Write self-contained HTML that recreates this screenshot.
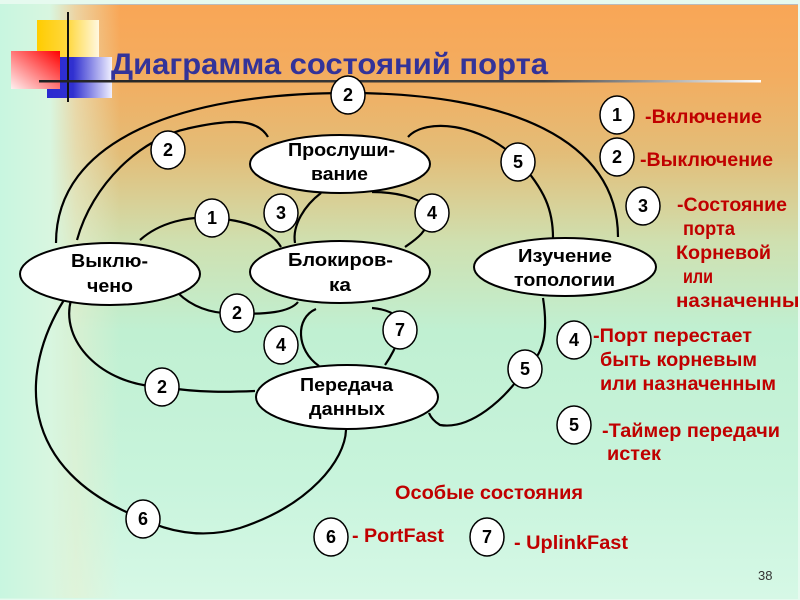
<!DOCTYPE html>
<html><head><meta charset="utf-8"><style>
html,body{margin:0;padding:0;width:800px;height:600px;overflow:hidden}
body{position:relative;background:#e6faef;font-family:"Liberation Sans",Arial,sans-serif}
#bg{position:absolute;left:0;top:4px;width:798px;height:594px;background:linear-gradient(180deg,#f9a656 0%,#f3ad60 12%,#e3bd78 25%,#cfe0b0 40%,#c0f0d2 55%,#c8f4dc 80%,#d6f8e6 100%);border-top:1px solid #bbb}
#fade{position:absolute;left:0;top:4px;width:200px;height:594px;background:linear-gradient(90deg,#c8f6e0 0%,#d8f6e0 25%,rgba(230,240,210,0.6) 38%,rgba(255,255,255,0) 60%)}
svg{position:absolute;left:0;top:0}
.c text{font-size:18px;font-weight:bold;text-anchor:middle;fill:#000}
.n{font-size:18px;font-weight:bold;fill:#000}
.r{font-size:19px;font-weight:bold;fill:#c00000}
</style></head><body>
<div id="bg"></div><div id="fade"></div>
<svg width="800" height="600" viewBox="0 0 800 600">
<defs>
<linearGradient id="gy" x1="0" x2="1"><stop offset="0" stop-color="#ffcc00"/><stop offset="0.5" stop-color="#ffd840"/><stop offset="1" stop-color="#fff8e0"/></linearGradient>
<linearGradient id="gr" x1="1" y1="0" x2="0" y2="1"><stop offset="0" stop-color="#ff0000"/><stop offset="1" stop-color="#fff0f0"/></linearGradient>
<linearGradient id="gb" x1="0" x2="1"><stop offset="0" stop-color="#2a2ad0"/><stop offset="0.4" stop-color="#3030d0"/><stop offset="1" stop-color="#f0f0ff"/></linearGradient>
<linearGradient id="gl" x1="0" x2="1"><stop offset="0" stop-color="#222"/><stop offset="0.7" stop-color="#444"/><stop offset="1" stop-color="#fff"/></linearGradient>
</defs>
<rect x="37" y="20" width="62" height="60" fill="url(#gy)"/>
<rect x="47" y="57" width="65" height="41" fill="url(#gb)"/>
<rect x="11" y="51" width="49" height="38" fill="url(#gr)"/>
<line x1="68" y1="12" x2="68" y2="102" stroke="#111" stroke-width="2"/>
<rect x="39" y="80" width="722" height="2.5" fill="url(#gl)"/>
<text x="111" y="74" font-size="30" font-weight="bold" fill="#333399" textLength="437" lengthAdjust="spacingAndGlyphs">Диаграмма состояний порта</text>

<g fill="none" stroke="#000" stroke-width="2.2">
<path d="M56,243 C56,140 180,93 348,93 C510,93 618,140 618,237"/>
<path d="M77,240 C92,185 140,138 190,128 C235,118 258,120 268,137"/>
<path d="M408,137 C425,118 480,122 518,160 C545,190 553,210 553,238"/>
<path d="M321,193 C305,205 292,225 295,243"/>
<path d="M372,192 C400,192 430,200 430,215 C428,232 415,240 405,247"/>
<path d="M140,240 C160,222 190,216 212,218 C250,220 272,232 281,247"/>
<path d="M178,293 C190,305 210,315 237,313 C265,315 290,312 298,302"/>
<path d="M316,309 C295,318 296,350 319,366"/>
<path d="M372,308 C395,310 405,320 400,335 C395,350 390,358 385,365"/>
<path d="M543,298 C548,330 545,355 525,369 C505,400 470,430 440,425 C435,422 431,418 429,413"/>
<path d="M71,300 C60,340 100,385 162,387 C200,393 230,392 255,391"/>
<path d="M64,300 C20,370 15,470 143,519 C165,530 200,540 240,528 C310,505 345,460 346,430"/>
</g>

<g fill="#fff" stroke="#000" stroke-width="2">
<ellipse cx="340" cy="164" rx="90" ry="29"/>
<ellipse cx="110" cy="274" rx="90" ry="31"/>
<ellipse cx="340" cy="272" rx="90" ry="31"/>
<ellipse cx="565" cy="267" rx="91" ry="29"/>
<ellipse cx="347" cy="397" rx="91" ry="32"/>
</g>
<g class="n" >
<text x="288" y="156" textLength="107" lengthAdjust="spacingAndGlyphs">Прослуши-</text><text x="311" y="180" textLength="57" lengthAdjust="spacingAndGlyphs">вание</text>
<text x="71" y="267" textLength="77" lengthAdjust="spacingAndGlyphs">Выклю-</text><text x="87" y="292" textLength="46" lengthAdjust="spacingAndGlyphs">чено</text>
<text x="288" y="266" textLength="105" lengthAdjust="spacingAndGlyphs">Блокиров-</text><text x="329" y="291" textLength="22" lengthAdjust="spacingAndGlyphs">ка</text>
<text x="518" y="262" textLength="94" lengthAdjust="spacingAndGlyphs">Изучение</text><text x="514" y="286" textLength="101" lengthAdjust="spacingAndGlyphs">топологии</text>
<text x="300" y="391" textLength="93" lengthAdjust="spacingAndGlyphs">Передача</text><text x="309" y="415" textLength="76" lengthAdjust="spacingAndGlyphs">данных</text>
</g>

<g class="c">
<g fill="#fff" stroke="#000" stroke-width="1.5">
<ellipse cx="348" cy="95" rx="17" ry="19"/><ellipse cx="168" cy="150" rx="17" ry="19"/>
<ellipse cx="518" cy="162" rx="17" ry="19"/><ellipse cx="212" cy="218" rx="17" ry="19"/>
<ellipse cx="281" cy="213" rx="17" ry="19"/><ellipse cx="432" cy="213" rx="17" ry="19"/>
<ellipse cx="237" cy="313" rx="17" ry="19"/><ellipse cx="281" cy="345" rx="17" ry="19"/>
<ellipse cx="400" cy="330" rx="17" ry="19"/><ellipse cx="525" cy="369" rx="17" ry="19"/>
<ellipse cx="162" cy="387" rx="17" ry="19"/><ellipse cx="143" cy="519" rx="17" ry="19"/>
<ellipse cx="617" cy="115" rx="17" ry="19"/><ellipse cx="617" cy="157" rx="17" ry="19"/>
<ellipse cx="643" cy="206" rx="17" ry="19"/><ellipse cx="574" cy="340" rx="17" ry="19"/>
<ellipse cx="574" cy="425" rx="17" ry="19"/><ellipse cx="331" cy="537" rx="17" ry="19"/>
<ellipse cx="487" cy="537" rx="17" ry="19"/>
</g>
<text x="348" y="101">2</text><text x="168" y="156">2</text><text x="518" y="168">5</text>
<text x="212" y="224">1</text><text x="281" y="219">3</text><text x="432" y="219">4</text>
<text x="237" y="319">2</text><text x="281" y="351">4</text><text x="400" y="336">7</text>
<text x="525" y="375">5</text><text x="162" y="393">2</text><text x="143" y="525">6</text>
<text x="617" y="121">1</text><text x="617" y="163">2</text><text x="643" y="212">3</text>
<text x="574" y="346">4</text><text x="574" y="431">5</text><text x="331" y="543">6</text>
<text x="487" y="543">7</text>
</g>

<g class="r">
<text x="645" y="123" textLength="117" lengthAdjust="spacingAndGlyphs">-Включение</text>
<text x="640" y="166" textLength="133" lengthAdjust="spacingAndGlyphs">-Выключение</text>
<text x="677" y="211" textLength="110" lengthAdjust="spacingAndGlyphs">-Состояние</text>
<text x="683" y="235" textLength="52" lengthAdjust="spacingAndGlyphs">порта</text>
<text x="676" y="259" textLength="95" lengthAdjust="spacingAndGlyphs">Корневой</text>
<text x="683" y="283" textLength="30" lengthAdjust="spacingAndGlyphs">или</text>
<text x="676" y="307" textLength="136" lengthAdjust="spacingAndGlyphs">назначенный</text>
<text x="593" y="342" textLength="159" lengthAdjust="spacingAndGlyphs">-Порт перестает</text>
<text x="600" y="366" textLength="157" lengthAdjust="spacingAndGlyphs">быть корневым</text>
<text x="600" y="390" textLength="176" lengthAdjust="spacingAndGlyphs">или назначенным</text>
<text x="602" y="437" textLength="178" lengthAdjust="spacingAndGlyphs">-Таймер передачи</text>
<text x="607" y="460" textLength="54" lengthAdjust="spacingAndGlyphs">истек</text>
<text x="395" y="499" textLength="188" lengthAdjust="spacingAndGlyphs">Особые состояния</text>
<text x="352" y="542" textLength="92" lengthAdjust="spacingAndGlyphs">- PortFast</text>
<text x="514" y="549" textLength="114" lengthAdjust="spacingAndGlyphs">- UplinkFast</text>
</g>
<text x="758" y="580" font-size="13" fill="#333">38</text>
</svg>
</body></html>
